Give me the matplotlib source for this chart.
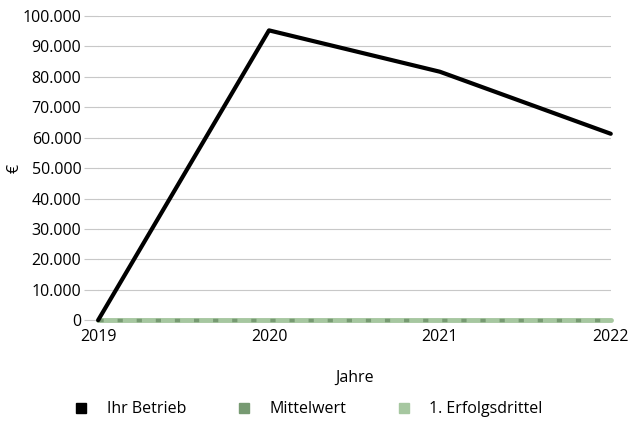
import matplotlib.pyplot as plt
from matplotlib.lines import Line2D
from matplotlib.ticker import FuncFormatter

plt.rcParams['font.family'] = ['Open Sans', 'DejaVu Sans']

jahre = [2019, 2020, 2021, 2022]
ihr_betrieb = [0, 95300, 81700, 61300]
mittelwert = [0, 0, 0, 0]
erfolgsdrittel = [0, 0, 0, 0]

c_betrieb = '#000000'
c_mittel = '#779a72'
c_drittel = '#a6c7a0'

fig = plt.figure(figsize=(6.29, 4.23), dpi=100)
ax = fig.add_axes([0.156, 0.243, 0.815, 0.719])

ax.plot(jahre, erfolgsdrittel, color=c_drittel, lw=3.5, solid_capstyle='round', zorder=3, clip_on=False)
ax.plot(jahre, mittelwert, color=c_mittel, lw=2.5, ls=(0, (1.5, 4)), zorder=4, clip_on=False)
ax.plot(jahre, ihr_betrieb, color=c_betrieb, lw=3, solid_capstyle='round', zorder=5, clip_on=False)

ax.set_xlim(2019, 2022)
ax.set_ylim(0, 100000)
ax.set_xticks(jahre)
ax.set_yticks(range(0, 100001, 10000))
ax.yaxis.set_major_formatter(FuncFormatter(lambda v, p: f'{int(v):,}'.replace(',', '.')))
ax.grid(axis='y', color='#c8c8c8', lw=0.8)
ax.set_axisbelow(True)
for s in ax.spines.values():
    s.set_visible(False)
ax.tick_params(axis='y', length=10, color='#c8c8c8', labelsize=11.5, pad=2)
ax.tick_params(axis='x', length=0, labelsize=11.5, pad=6)
ax.set_xlabel('Jahre', fontsize=11.5, labelpad=18)
ax.set_ylabel('€', fontsize=11.5)
ax.yaxis.set_label_coords(-0.148, 0.5)

handles = [Line2D([], [], marker='s', ls='', color=c, markersize=7) for c in (c_betrieb, c_mittel, c_drittel)]
fig.legend(handles, ['Ihr Betrieb', 'Mittelwert', '1. Erfolgsdrittel'], loc='center',
           bbox_to_anchor=(0.483, 0.032), ncol=3, frameon=False, fontsize=11.5,
           handletextpad=0.6, columnspacing=2.6)

fig.savefig('out.png', dpi=100)
